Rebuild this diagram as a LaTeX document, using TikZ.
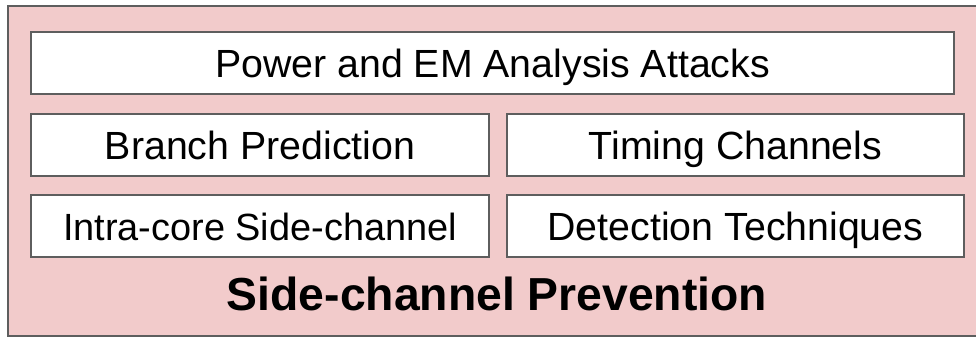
\documentclass[tikz,border=0pt]{standalone}
\usepackage{fontspec}
\setmainfont{Liberation Sans}
\definecolor{panelpink}{HTML}{F2CBCB}
\definecolor{edgegray}{HTML}{5E5E5E}
\tikzset{
  panel/.style={draw=edgegray, line width=2pt, fill=panelpink},
  topic/.style={draw=edgegray, line width=2pt, fill=white, inner sep=0pt,
    font=\fontsize{39.3}{47}\selectfont, text=black,
    text height=29pt, text depth=0pt},
  caption/.style={font=\fontsize{46.3}{55}\selectfont\bfseries, text=black, inner sep=0pt}
}
\begin{document}
\begin{tikzpicture}[x=1pt,y=-1pt]
  \useasboundingbox (0,0) rectangle (976,338);
  \fill[white] (0,0) rectangle (976,338);
  % outer panel (right side runs past the page edge)
  \draw[panel] (8,6) rectangle (990,336);
  % topic boxes
  \node[topic, minimum width=923pt, minimum height=62pt, anchor=north west] (power) at (30,31) {Power and EM Analysis Attacks};
  \node[topic, minimum width=458pt, minimum height=62pt, anchor=north west] (branch) at (30,113) {Branch Prediction};
  \node[topic, minimum width=457pt, minimum height=62pt, anchor=north west] (timing) at (506,113) {Timing Channels};
  \node[topic, minimum width=458pt, minimum height=62pt, anchor=north west,
        font=\fontsize{37.9}{46}\selectfont, text height=28.5pt] (intra) at (30,194) {Intra-core Side-channel};
  \node[topic, minimum width=457pt, minimum height=62pt, anchor=north west] (detect) at (506,194) {Detection Techniques};
  % panel caption
  \node[caption, anchor=base] (title) at (497,310) {Side-channel Prevention};
\end{tikzpicture}
\end{document}
